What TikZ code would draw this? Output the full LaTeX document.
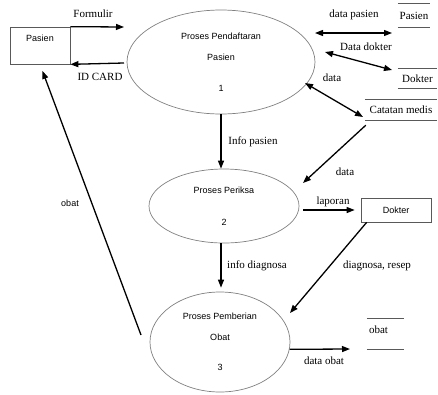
\documentclass[tikz,border=0pt]{standalone}
\usepackage{fontspec}
\setmainfont{Liberation Serif}
\setsansfont{Liberation Sans}
\usetikzlibrary{shapes.geometric}
\usetikzlibrary{arrows.meta}
\tikzset{x=1pt, y=-1pt,
    proses/.style={
        ellipse,
        draw=gray,
        line width=0.7pt,
        inner sep=0pt,
        align=center,
        font=\sffamily\fontsize{9}{10}\selectfont},
    entitas/.style={
        draw=gray!70!black,
        line width=0.7pt,
        inner sep=0pt,
        font=\sffamily\fontsize{9}{10}\selectfont},
    simpan/.style={
        inner sep=0pt,
        font=\fontsize{11}{12}\selectfont},
    lbl/.style={
        inner sep=0pt,
        font=\fontsize{11}{12}\selectfont},
    alir/.style={
        draw,
        line width=1.3pt,
        -{Triangle[length=8pt,width=6pt]}},
    alirdua/.style={
        alir,
        {Triangle[length=8pt,width=6pt]}-{Triangle[length=8pt,width=6pt]}},
    garis/.style={draw=gray!70!black, line width=0.7pt}}

\begin{document}
\begin{tikzpicture}
    \useasboundingbox (0,0) rectangle (438,394);

    % proses
    \node[proses, minimum width=188pt, minimum height=104pt] (p1) at (221,62)
        {Proses Pendaftaran\\[11pt]Pasien\\[21pt]1};
    \node[proses, minimum width=150pt, minimum height=74pt] (p2) at (224,206)
        {Proses Periksa\\[22pt]2};
    \node[proses, minimum width=140pt, minimum height=100pt] (p3) at (220,342)
        {Proses Pemberian\\[11pt]Obat\\[20pt]3};

    % entitas luar
    \node[entitas, minimum width=60pt, minimum height=37pt] (pasien) at (40,45.5)
        {\raisebox{7pt}[6pt][0pt]{Pasien}};
    \node[entitas, minimum width=70pt, minimum height=24pt] (dokter) at (396,210) {Dokter};

    % data store
    \node[simpan, minimum width=32pt, minimum height=23pt] (dsPasien) at (414,15.5) {Pasien};
    \node[simpan, minimum width=39pt, minimum height=19pt] (dsDokter) at (417.5,78.5) {Dokter};
    \node[simpan, minimum width=72pt, minimum height=20pt] (dsCatatan) at (401,110) {Catatan medis};
    \node[simpan, minimum width=37pt, minimum height=30pt] (dsObat) at (385.5,334)
        {\kern-7pt\raisebox{4pt}[7pt][0pt]{obat}\kern7pt};
    \foreach \ds in {dsPasien,dsDokter,dsCatatan,dsObat}{
        \draw[garis] (\ds.north west) -- (\ds.north east);
        \draw[garis] (\ds.south west) -- (\ds.south east);
    }

    % ujung panah
    \coordinate (cForm) at (124,27);
    \coordinate (cId) at (124,63);
    \coordinate (cDp1) at (315,33);
    \coordinate (cDp2) at (392,33);
    \coordinate (cDd1) at (325,52);
    \coordinate (cDd2) at (392,70);
    \coordinate (cDt1) at (305,83);
    \coordinate (cDt2) at (363,117);
    \coordinate (cCm) at (303,183);
    \coordinate (cRs) at (290,313);
    \coordinate (cDo) at (350,349);
    \coordinate (cOb) at (141,335);

    % aliran data
    \draw[alir] (pasien.north east) -- (cForm);
    \draw[alir] (cId) -- (pasien.south east);
    \draw[alirdua] (cDp1) -- (cDp2);
    \draw[alirdua] (cDd1) -- (cDd2);
    \draw[alirdua] (cDt1) -- (cDt2);
    \draw[alir] (p1.south) -- (p1.south |- p2.north);
    \draw[alir] ([xshift=1pt,yshift=-5pt]dsCatatan.south west) -- (cCm);
    \draw[alir, shorten <=4pt, shorten >=6pt] (p2.east |- dokter.west) -- (dokter.west);
    \draw[alir] ([xshift=6pt]dokter.south west) -- (cRs);
    \draw[alir] (p2.south -| p1.south) -- ([yshift=4pt]p3.north -| p1.south);
    \draw[alir] (p3.-6) -- (cDo);
    \draw[alir, shorten >=7pt] (cOb) -- (pasien.south);

    % label
    \node[lbl] (lForm) at (93,14) {Formulir};
    \node[lbl] (lId) at (100,77) {ID CARD};
    \node[lbl] (lDp) at (354,15) {data pasien};
    \node[lbl] (lDd) at (366,47) {Data dokter};
    \node[lbl] (lDt) at (332,78) {data};
    \node[lbl] (lIp) at (253,142) {Info pasien};
    \node[lbl] (lCm) at (345,172) {data};
    \node[lbl] (lLap) at (333,202) {laporan};
    \node[lbl, font=\sffamily\fontsize{9}{10}\selectfont] (lOb) at (70,203) {obat};
    \node[lbl] (lId2) at (257,266) {info diagnosa};
    \node[lbl] (lRs) at (377,266) {diagnosa, resep};
    \node[lbl] (lDo) at (324,361) {data obat};
\end{tikzpicture}
\end{document}
